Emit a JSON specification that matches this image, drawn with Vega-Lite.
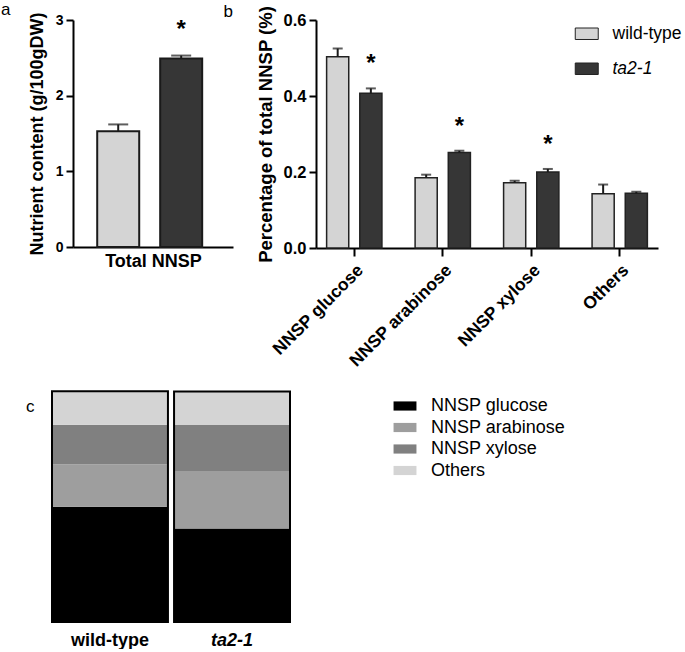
{
  "$schema": "https://vega.github.io/schema/vega-lite/v6.json",
  "background": "white",
  "padding": {"left": 1, "top": 0, "right": 0, "bottom": 0},
  "title": {"text": "a", "anchor": "start", "fontSize": 17, "fontWeight": "normal", "color": "black", "dx": -25, "offset": -16},
  "config": {
    "font": "Liberation Sans",
    "view": {"stroke": null},
    "axis": {
      "grid": false,
      "domainColor": "black",
      "domainWidth": 2,
      "tickColor": "black",
      "tickWidth": 2,
      "tickSize": 7,
      "labelColor": "black",
      "titleColor": "black",
      "labelFontWeight": "bold",
      "titleFontWeight": "bold",
      "labelFontSize": 14,
      "titleFontSize": 18,
      "labelPadding": 3
    },
    "legend": {"labelColor": "black", "labelFont": "Liberation Sans"}
  },
  "datasets": {
    "total": [
      {"genotype": "wild-type", "mean": 1.53, "upper": 1.62, "sig": false},
      {"genotype": "ta2-1", "mean": 2.49, "upper": 2.53, "sig": true}
    ],
    "nnsp": [
      {"sugar": "NNSP glucose", "rank": 1, "genotype": "wild-type", "mean": 0.503, "upper": 0.525, "sig": false},
      {"sugar": "NNSP glucose", "rank": 1, "genotype": "ta2-1", "mean": 0.407, "upper": 0.42, "sig": true},
      {"sugar": "NNSP arabinose", "rank": 2, "genotype": "wild-type", "mean": 0.185, "upper": 0.193, "sig": false},
      {"sugar": "NNSP arabinose", "rank": 2, "genotype": "ta2-1", "mean": 0.251, "upper": 0.256, "sig": true},
      {"sugar": "NNSP xylose", "rank": 3, "genotype": "wild-type", "mean": 0.172, "upper": 0.177, "sig": false},
      {"sugar": "NNSP xylose", "rank": 3, "genotype": "ta2-1", "mean": 0.2, "upper": 0.208, "sig": true},
      {"sugar": "Others", "rank": 4, "genotype": "wild-type", "mean": 0.143, "upper": 0.167, "sig": false},
      {"sugar": "Others", "rank": 4, "genotype": "ta2-1", "mean": 0.144, "upper": 0.148, "sig": false}
    ]
  },
  "resolve": {"scale": {"fill": "independent", "color": "independent"}, "legend": {"fill": "independent", "color": "independent"}},
  "spacing": 20,
  "vconcat": [
    {
      "bounds": "flush",
      "spacing": 20,
      "resolve": {"scale": {"fill": "independent"}, "legend": {"fill": "independent"}},
      "hconcat": [
        {
          "width": 1,
          "height": 1,
          "data": {"name": "total"},
          "mark": {"type": "point", "opacity": 0},
          "encoding": {}
        },
        {
          "bounds": "flush",
          "spacing": 83,
          "resolve": {"scale": {"fill": "independent"}, "legend": {"fill": "independent"}},
          "hconcat": [
            {
              "width": 160,
              "height": 227,
              "data": {"name": "total"},
              "title": {"text": "b", "anchor": "end", "frame": "group", "fontSize": 17, "fontWeight": "normal", "color": "black", "offset": -8.5},
              "encoding": {
                "x": {
                  "field": "genotype", "type": "nominal", "sort": ["wild-type", "ta2-1"],
                  "scale": {"paddingInner": 0.333, "paddingOuter": 0.437, "align": 0.44},
                  "axis": {"labels": false, "tickSize": -10, "title": "Total NNSP", "titlePadding": 4}
                }
              },
              "layer": [
                {
                  "mark": {"type": "bar", "stroke": "#1a1a1a", "strokeWidth": 2},
                  "encoding": {
                    "y": {"field": "mean", "type": "quantitative", "scale": {"domain": [0, 3]},
                      "axis": {"values": [0, 1, 2, 3], "format": "d", "title": "Nutrient content (g/100gDW)", "titlePadding": 9}},
                    "fill": {"field": "genotype", "type": "nominal", "scale": {"domain": ["wild-type", "ta2-1"], "range": ["#d4d4d4", "#363636"]}, "legend": null}
                  }
                },
                {
                  "mark": {"type": "rule", "strokeWidth": 2, "color": "#1a1a1a"},
                  "encoding": {"y": {"field": "mean", "type": "quantitative"}, "y2": {"field": "upper"}}
                },
                {
                  "mark": {"type": "tick", "thickness": 2, "size": 20, "color": "#1a1a1a"},
                  "encoding": {"y": {"field": "upper", "type": "quantitative"}}
                },
                {
                  "transform": [{"filter": "datum.sig"}],
                  "mark": {"type": "text", "text": "*", "fontSize": 24, "fontWeight": "bold", "color": "black", "baseline": "middle", "dy": -26},
                  "encoding": {"y": {"field": "upper", "type": "quantitative"}}
                }
              ]
            },
            {
              "width": 342,
              "height": 228,
              "data": {"name": "nnsp"},
              "encoding": {
                "x": {
                  "field": "sugar", "type": "nominal", "sort": ["NNSP glucose", "NNSP arabinose", "NNSP xylose", "Others"],
                  "scale": {"paddingInner": 0.375, "paddingOuter": 0.12},
                  "axis": {"title": null, "labelAngle": -45, "labelFontSize": 17.5, "tickSize": 8, "labelPadding": 5}
                },
                "xOffset": {"field": "genotype", "type": "nominal", "sort": ["wild-type", "ta2-1"], "scale": {"paddingInner": 0.333, "paddingOuter": 0}}
              },
              "layer": [
                {
                  "mark": {"type": "bar", "stroke": "#222222", "strokeWidth": 1.5},
                  "encoding": {
                    "y": {"field": "mean", "type": "quantitative", "scale": {"domain": [0, 0.6]},
                      "axis": {"values": [0, 0.2, 0.4, 0.6], "format": ".1f", "title": "Percentage of total NNSP (%)", "titleFontSize": 18.5, "labelFontSize": 16.5, "titlePadding": 8}},
                    "fill": {
                      "field": "genotype", "type": "nominal",
                      "scale": {"domain": ["wild-type", "ta2-1"], "range": ["#d4d4d4", "#363636"]},
                      "legend": {
                        "title": null, "orient": "none", "legendX": 262, "legendY": 5,
                        "symbolType": "M-2,-1H2V1H-2Z", "symbolSize": 132,
                        "symbolStrokeColor": "#222222", "symbolStrokeWidth": 1,
                        "labelFontSize": 17.5, "labelOffset": 17, "rowPadding": 16, "padding": 0,
                        "labelFontWeight": "normal",
                        "encode": {"labels": {"update": {"fontStyle": {"signal": "datum.value === 'ta2-1' ? 'italic' : 'normal'"}}}}
                      }
                    }
                  }
                },
                {
                  "mark": {"type": "rule", "strokeWidth": 2, "color": "#1a1a1a"},
                  "encoding": {"y": {"field": "mean", "type": "quantitative"}, "y2": {"field": "upper"}}
                },
                {
                  "mark": {"type": "tick", "thickness": 2, "size": 10, "color": "#1a1a1a"},
                  "encoding": {"y": {"field": "upper", "type": "quantitative"}}
                },
                {
                  "transform": [{"filter": "datum.sig"}],
                  "mark": {"type": "text", "text": "*", "fontSize": 24, "fontWeight": "bold", "color": "black", "baseline": "middle", "dy": -24},
                  "encoding": {"y": {"field": "upper", "type": "quantitative"}}
                }
              ]
            }
          ]
        }
      ]
    },
    {
      "width": 238,
      "height": 230,
      "data": {"name": "nnsp"},
      "title": {"text": "c", "anchor": "start", "frame": "group", "fontSize": 17, "fontWeight": "normal", "color": "black", "offset": -18, "dx": -26, "dy": 8},
      "encoding": {
        "x": {
          "field": "genotype", "type": "nominal", "sort": ["wild-type", "ta2-1"],
          "scale": {"paddingInner": 0.05, "paddingOuter": 0},
          "axis": {
            "title": null, "labelAngle": 0, "domain": false, "ticks": false, "labelFontSize": 18, "labelPadding": 9,
            "labelFontStyle": {"condition": {"test": "datum.value === 'ta2-1'", "value": "italic"}, "value": "normal"}
          }
        }
      },
      "layer": [
        {
          "mark": {"type": "bar"},
          "encoding": {
            "y": {"field": "mean", "type": "quantitative", "stack": "normalize", "axis": null, "scale": {"domain": [0, 1], "nice": false}},
            "order": {"field": "rank", "type": "quantitative"},
            "color": {
              "field": "sugar", "type": "nominal",
              "scale": {"domain": ["NNSP glucose", "NNSP arabinose", "NNSP xylose", "Others"], "range": ["#000000", "#9e9e9e", "#808080", "#d4d4d4"]},
              "legend": {
                "title": null, "orient": "none", "legendX": 344, "legendY": 5,
                "symbolType": "M-2.5,-1H2.5V1H-2.5Z", "symbolSize": 84, "symbolStrokeWidth": 0, "symbolOpacity": 1,
                "labelFontSize": 18, "labelOffset": 17, "rowPadding": 3.5, "padding": 0
              }
            }
          }
        },
        {
          "mark": {"type": "bar", "fillOpacity": 0, "stroke": "black", "strokeWidth": 2},
          "encoding": {"y": {"aggregate": "sum", "field": "mean", "type": "quantitative"}}
        }
      ]
    }
  ]
}
